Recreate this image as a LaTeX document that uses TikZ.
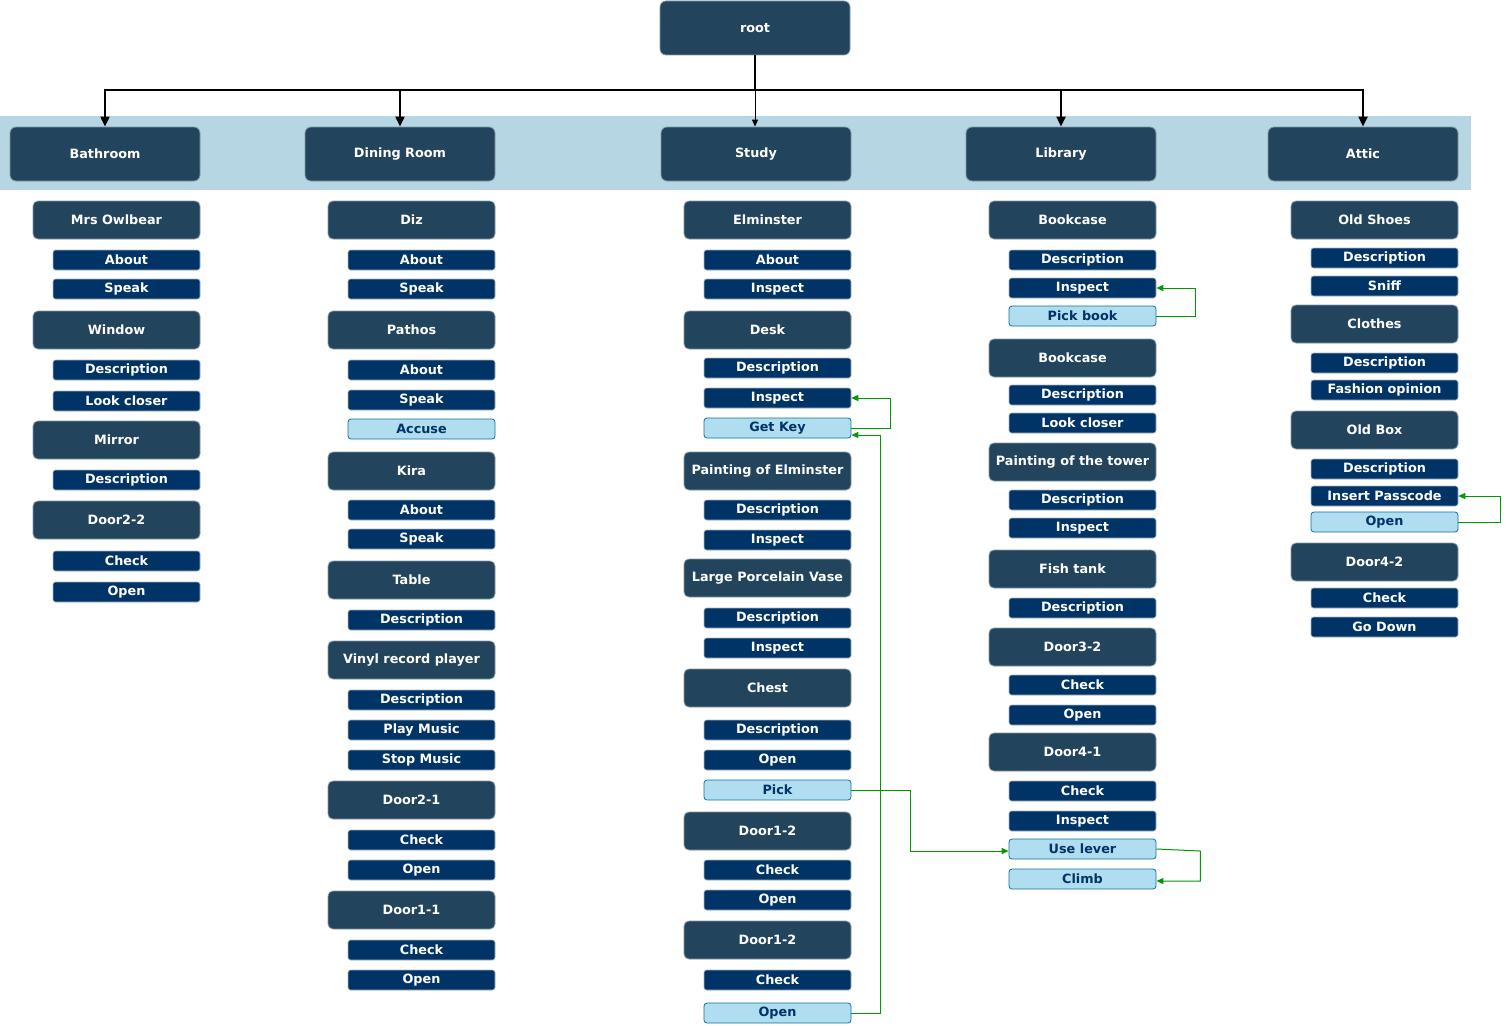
\documentclass[tikz,border=0pt]{standalone}
\usepackage{fontspec}
\setmainfont{DejaVu Sans}
\usetikzlibrary{arrows.meta,calc}
\definecolor{bandblue}{HTML}{B5D6E2}
\definecolor{slate}{HTML}{23445D}
\definecolor{navy}{HTML}{003366}
\definecolor{paleblue}{HTML}{B1DDF0}
\definecolor{paleedge}{HTML}{10739E}
\definecolor{linkgreen}{HTML}{009900}
\begin{document}
\begin{tikzpicture}[x=1pt,y=-1pt,
  font=\fontsize{12.8}{15}\selectfont\bfseries,
  room/.style={draw=slate!55!white, line width=0.8pt, fill=slate, text=white,
    rounded corners=6pt, minimum width=190pt, minimum height=54pt, inner sep=0pt},
  big/.style={draw=slate!55!white, line width=0.8pt, fill=slate, text=white,
    rounded corners=5pt, minimum width=167pt, minimum height=38pt, inner sep=0pt},
  item/.style={draw=slate!40!white, line width=0.6pt, fill=navy, text=white,
    rounded corners=2.5pt, minimum width=147pt, minimum height=20pt, inner sep=0pt,
    xshift=10pt},
  pick/.style={draw=paleedge, line width=0.8pt, fill=paleblue, text=navy,
    rounded corners=3pt, minimum width=147pt, minimum height=20pt, inner sep=0pt,
    xshift=10pt},
  tree/.style={draw=black, line width=2pt, -{Triangle[length=10pt,width=9pt]}},
  thintree/.style={draw=black, line width=1pt, -{Triangle[length=7pt,width=6pt]}},
  link/.style={draw=linkgreen, line width=1pt, -{Triangle[length=7pt,width=6pt]}}
]
\useasboundingbox (0,0) rectangle (1511,1025);

% room band
\fill[bandblue] (0,116) rectangle (1471,190);

% root and rooms
\node[room] (root) at (755,28) {root};
\node[room] (bath) at (105,154) {Bathroom};
\node[room] (dining) at (400,154) {Dining Room};
\node[room] (study) at (756,154) {Study};
\node[room] (library) at (1061,154) {Library};
\node[room] (attic) at (1363,154) {Attic};

\draw[tree] (root.south) -- ++(0,35) -| (bath.north);
\draw[tree] (root.south) -- ++(0,35) -| (dining.north);
\draw[tree] (root.south) -- ++(0,35) -| (library.north);
\draw[tree] (root.south) -- ++(0,35) -| (attic.north);
\draw[thintree] (root.south) -- (root.south |- study.north);

% Bathroom
\foreach \t/\y/\s in {Mrs Owlbear/220/big, About/260/item, Speak/289/item,
  Window/330/big, Description/370/item, Look closer/401/item,
  Mirror/440/big, Description/480/item,
  Door2-2/520/big, Check/561/item, Open/592/item}
  \node[\s] (c1-\y) at (116.5,\y) {\t};

% Dining Room
\foreach \t/\y/\s in {Diz/220/big, About/260/item, Speak/289/item,
  Pathos/330/big, About/370/item, Speak/400/item, Accuse/429/pick,
  Kira/471/big, About/510/item, Speak/539/item,
  Table/580/big, Description/620/item,
  Vinyl record player/660/big, Description/700/item, Play Music/730/item, Stop Music/760/item,
  Door2-1/800/big, Check/840/item, Open/870/item,
  Door1-1/910/big, Check/950/item, Open/980/item}
  \node[\s] (c2-\y) at (411.5,\y) {\t};

% Study
\foreach \t/\y/\s in {Elminster/220/big, About/260/item, Inspect/289/item,
  Desk/330/big, Description/368/item, Inspect/398/item, Get Key/428/pick,
  Painting of Elminster/471/big, Description/510/item, Inspect/540/item,
  Large Porcelain Vase/578/big, Description/618/item, Inspect/648/item,
  Chest/688/big, Description/730/item, Open/760/item, Pick/790/pick,
  Door1-2/831/big, Check/870/item, Open/900/item,
  Door1-2/940/big, Check/980/item, Open/1013/pick}
  \node[\s] (c3-\y) at (767.5,\y) {\t};

% Library
\foreach \t/\y/\s in {Bookcase/220/big, Description/260/item, Inspect/288/item, Pick book/316/pick,
  Bookcase/358/big, Description/395/item, Look closer/423/item,
  Painting of the tower/462/big, Description/500/item, Inspect/528/item,
  Fish tank/569/big, Description/608/item,
  Door3-2/647/big, Check/685/item, Open/715/item,
  Door4-1/752/big, Check/791/item, Inspect/821/item, Use lever/849/pick, Climb/879/pick}
  \node[\s] (c4-\y) at (1072.5,\y) {\t};

% Attic
\foreach \t/\y/\s in {Old Shoes/220/big, Description/258/item, Sniff/286/item,
  Clothes/324/big, Description/363/item, Fashion opinion/390/item,
  Old Box/430/big, Description/469/item, Insert Passcode/496/item, Open/522/pick,
  Door4-2/562/big, Check/598/item, Go Down/627/item}
  \node[\s] (c5-\y) at (1374.5,\y) {\t};

% action links
\draw[link] (c3-428.east) -- ++(39,0) |- (c3-398.east);
\draw[link] (c3-1013.east) -- ++(29,0) |- ($(c3-428.east)+(0,7)$);
\draw[link] (c4-316.east) -- ++(39,0) |- (c4-288.east);
\draw[link] (c3-790.east) -- ++(59,0) |- ($(c4-849.west)+(0,2)$);
\draw[link] (c4-849.east) -- ++(44,2) |- ($(c4-879.east)+(0,2)$);
\draw[link] (c5-522.east) -- ++(42,0) |- (c5-496.east);
\end{tikzpicture}
\end{document}
